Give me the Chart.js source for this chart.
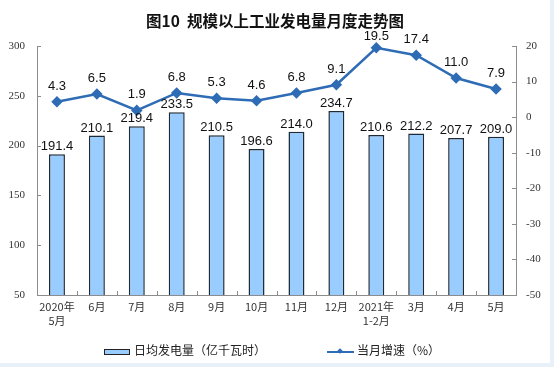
<!DOCTYPE html>
<html>
<head>
<meta charset="utf-8">
<script src="https://cdn.jsdelivr.net/npm/chart.js@4.4.1/dist/chart.umd.min.js"></script>
<style>
  html, body { margin: 0; padding: 0; background: #e8f1fa; }
  #wrap { position: relative; width: 550px; height: 363px; background: #fff; overflow: hidden; }
  #c { position: absolute; left: 0; top: 0; }
  #title { position: absolute; left: 0; width: 550px; top: 9px; text-align: center; line-height: 22px;
           font-weight: bold; font-size: 15.5px; font-family: "Noto Sans CJK SC", sans-serif; color: #111; }
  .lg { position: absolute; top: 341px; font: 12px "Noto Sans CJK SC", sans-serif; color: #222; white-space: nowrap; }
  .lg .box { display: inline-block; width: 24px; height: 4px; background: #99ccff; border: 1px solid #222; vertical-align: middle; margin-right: 4px; }
  .lg .ln { display: inline-block; position: relative; width: 27px; height: 2px; background: #2e6cb5; vertical-align: middle; margin-right: 3px; }
  .lg .ln i { position: absolute; left: 11px; top: -2px; width: 4px; height: 4px; background: #2e6cb5; transform: rotate(45deg); }
</style>
</head>
<body>
<div id="wrap">
  <canvas id="c" width="554" height="367"></canvas>
  <div id="title">图10&nbsp; 规模以上工业发电量月度走势图</div>
  <div class="lg" style="left:104px"><span class="box"></span>日均发电量（亿千瓦时）</div>
  <div class="lg" style="left:327px"><span class="ln"><i></i></span>当月增速（%）</div>
</div>
<script>
// ── Data ──
const MONTHS = [['2020年', '5月'], '6月', '7月', '8月', '9月', '10月', '11月', '12月', ['2021年', '1-2月'], '3月', '4月', '5月'];
const DAILY_OUTPUT = [191.4, 210.1, 219.4, 233.5, 210.5, 196.6, 214.0, 234.7, 210.6, 212.2, 207.7, 209.0];
const GROWTH = [4.3, 6.5, 1.9, 6.8, 5.3, 4.6, 6.8, 9.1, 19.5, 17.4, 11.0, 7.9];

const LINE_COLOR = '#2e6cb5';
const AXIS_COLOR = '#8c8c8c';

// small inward tick marks on all three axes
const innerTicks = {
  id: 'innerTicks',
  afterDraw(chart) {
    const { ctx, chartArea: a, scales } = chart;
    ctx.save();
    ctx.strokeStyle = AXIS_COLOR;
    ctx.lineWidth = 1;
    ctx.beginPath();
    scales.y.ticks.forEach(t => {
      const y = Math.round(scales.y.getPixelForValue(t.value)) + 0.5;
      ctx.moveTo(a.left, y); ctx.lineTo(a.left + 4, y);
    });
    scales.y1.ticks.forEach(t => {
      const y = Math.round(scales.y1.getPixelForValue(t.value)) + 0.5;
      ctx.moveTo(a.right - 4, y); ctx.lineTo(a.right, y);
    });
    const step = (a.right - a.left) / MONTHS.length;
    for (let i = 1; i < MONTHS.length; i++) {
      const x = Math.round(a.left + step * i) + 0.5;
      ctx.moveTo(x, a.bottom); ctx.lineTo(x, a.bottom - 4);
    }
    ctx.stroke();
    ctx.restore();
  }
};

// value labels above bars and points (line labels kept below the title)
const valueLabels = {
  id: 'valueLabels',
  afterDraw(chart) {
    const { ctx, chartArea } = chart;
    ctx.save();
    ctx.font = '13px "Liberation Sans", Arial, sans-serif';
    ctx.fillStyle = '#111';
    ctx.textAlign = 'center';
    ctx.textBaseline = 'bottom';
    chart.getDatasetMeta(1).data.forEach((el, i) => {
      ctx.fillText(DAILY_OUTPUT[i].toFixed(1), el.x, el.y - 1);
    });
    chart.getDatasetMeta(0).data.forEach((el, i) => {
      ctx.fillText(GROWTH[i].toFixed(1), el.x, Math.max(el.y - 9, chartArea.top - 3));
    });
    ctx.restore();
  }
};

new Chart(document.getElementById('c'), {
  data: {
    labels: MONTHS,
    datasets: [
      {
        type: 'line', label: '当月增速（%）', data: GROWTH, yAxisID: 'y1',
        borderColor: LINE_COLOR, backgroundColor: LINE_COLOR, borderWidth: 2.5,
        pointStyle: 'rectRot', pointRadius: 4, tension: 0, order: 0, clip: false
      },
      {
        type: 'bar', label: '日均发电量（亿千瓦时）', data: DAILY_OUTPUT, yAxisID: 'y',
        backgroundColor: '#99ccff', borderColor: '#1e2a36', borderWidth: 1.5,
        categoryPercentage: 1, barPercentage: 0.4, order: 1
      }
    ]
  },
  options: {
    responsive: false, animation: false,
    layout: { padding: { top: 46, left: 0, right: 0, bottom: 0 } },
    plugins: { legend: { display: false }, tooltip: { enabled: false } },
    scales: {
      x: {
        offset: true,
        grid: { display: false, drawTicks: false },
        border: { display: true, color: AXIS_COLOR },
        ticks: { padding: 5, color: '#333', font: { size: 11, family: '"Noto Sans CJK SC", sans-serif', lineHeight: 1.25 }, maxRotation: 0 },
        afterFit: s => { s.height = 72; }
      },
      y: {
        position: 'left', min: 50, max: 300,
        grid: { display: false, drawTicks: false },
        border: { display: true, color: AXIS_COLOR },
        ticks: { stepSize: 50, padding: 12, color: '#333', font: { size: 11, family: '"Liberation Serif", serif' } },
        afterFit: s => { s.width = 37; }
      },
      y1: {
        position: 'right', min: -50, max: 20,
        grid: { display: false, drawTicks: false },
        border: { display: true, color: AXIS_COLOR },
        ticks: { stepSize: 10, padding: 10, color: '#333', font: { size: 11, family: '"Liberation Serif", serif' } },
        afterFit: s => { s.width = 38; }
      }
    }
  },
  plugins: [innerTicks, valueLabels]
});
</script>
</body>
</html>
